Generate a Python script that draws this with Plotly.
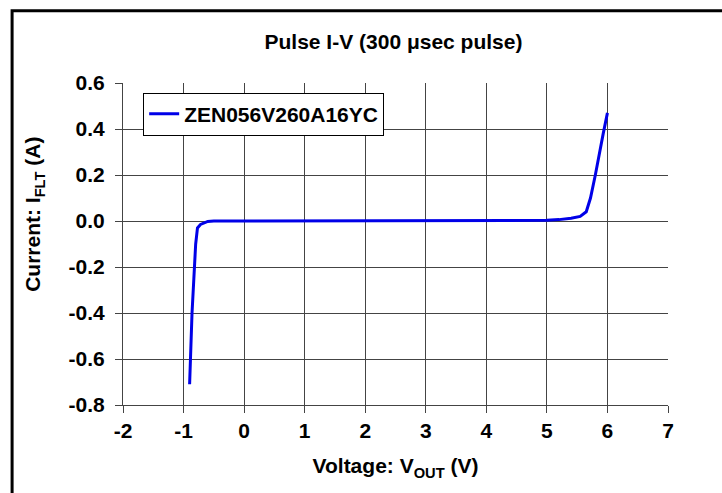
import plotly.graph_objects as go

# Data
voltage = [-0.90, -0.89, -0.86, -0.83, -0.80, -0.77, -0.72, -0.60, -0.50,
           0.0, 1.0, 2.0, 3.0, 4.0, 4.8, 5.0, 5.2, 5.4, 5.55, 5.65, 5.72,
           5.80, 5.93, 6.00]
current = [-0.71, -0.60, -0.40, -0.25, -0.10, -0.03, -0.015, -0.002, 0.0,
           0.0, 0.0, 0.0, 0.0, 0.0, 0.0, 0.003, 0.006, 0.012, 0.02, 0.04, 0.10,
           0.20, 0.38, 0.47]
series_name = "ZEN056V260A16YC"
x_ticks = [-2, -1, 0, 1, 2, 3, 4, 5, 6, 7]
y_ticks = [0.6, 0.4, 0.2, 0.0, -0.2, -0.4, -0.6, -0.8]
y_tick_text = ["0.6", "0.4", "0.2", "0.0", "-0.2", "-0.4", "-0.6", "-0.8"]

font_family = "Liberation Sans, Arial, sans-serif"

fig = go.Figure()
fig.add_trace(go.Scatter(
    x=voltage, y=current, mode="lines", name=f"<b>{series_name}</b>",
    line=dict(color="#0000E8", width=3),
))

fig.update_layout(
    width=722, height=493,
    margin=dict(l=123, r=54, t=83, b=88),
    paper_bgcolor="white", plot_bgcolor="white",
    font=dict(family=font_family, color="black"),
    title=dict(text="<b>Pulse I-V (300 μsec pulse)</b>", x=0.545, xanchor="center",
               y=0.915, yanchor="middle", font=dict(size=21, color="black")),
    showlegend=True,
    legend=dict(x=0.037, y=0.97, xanchor="left", yanchor="top",
                bgcolor="white", bordercolor="black", borderwidth=1,
                font=dict(size=21, color="black"), itemwidth=30,
                tracegroupgap=0),
    xaxis=dict(
        range=[-2, 7], tickvals=x_ticks, ticktext=[f"<b>{v}</b>" for v in x_ticks],
        showgrid=True, gridcolor="#444444", gridwidth=1,
        showline=True, linecolor="#444444", linewidth=1,
        ticks="outside", ticklen=7, tickcolor="#444444",
        tickfont=dict(size=21), zeroline=False, automargin=False,
        title=dict(text="<b>Voltage: V<sub>OUT</sub> (V)</b>", font=dict(size=21), standoff=17),
    ),
    yaxis=dict(
        range=[-0.8, 0.6], tickvals=y_ticks, ticktext=[f"<b>{t}</b>" for t in y_tick_text],
        showgrid=True, gridcolor="#444444", gridwidth=1,
        showline=True, linecolor="#444444", linewidth=1,
        ticks="outside", ticklen=7, tickcolor="#444444",
        tickfont=dict(size=21), zeroline=False, automargin=False,
        ticklabelstandoff=6,
    ),
    annotations=[dict(text="<b>Current: I<sub>FLT</sub> (A)</b>", textangle=-90,
                      xref="paper", yref="paper", x=-0.163, y=0.591,
                      xanchor="center", yanchor="middle", showarrow=False,
                      font=dict(size=21, color="black"))],
    shapes=[dict(type="rect", xref="paper", yref="paper",
                 x0=-0.2035, x1=1.15, y0=-0.35, y1=1.224,
                 line=dict(color="black", width=3), fillcolor="rgba(0,0,0,0)",
                 layer="below")],
)

fig.write_html("out.html", config={"displayModeBar": False},
               post_script="document.body.style.margin='0';window.dispatchEvent(new Event('resize'));")
